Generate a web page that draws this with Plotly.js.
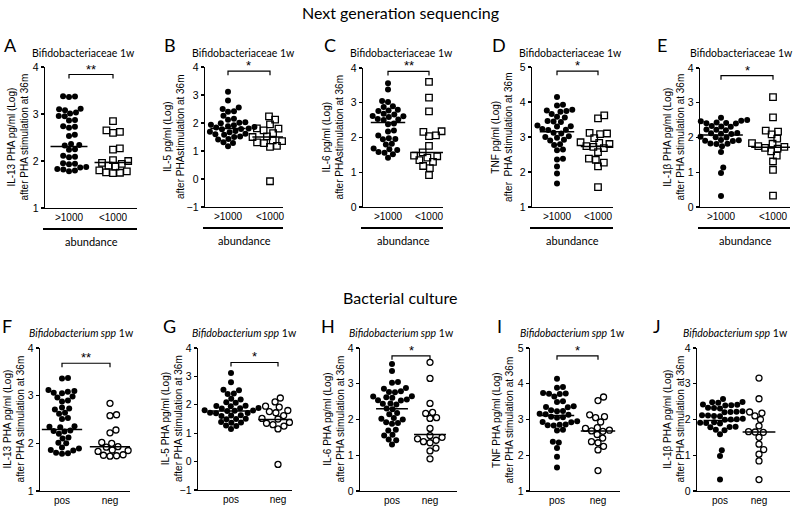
<!DOCTYPE html>
<html><head><meta charset="utf-8">
<script src="https://cdn.plot.ly/plotly-3.0.1.min.js"></script>
<style>body{margin:0;background:#fff}#c{width:800px;height:508px}</style>
</head><body><div id="c"></div>
<script>
// ---------- data ----------
const catsNGS = [">1000", "<1000"];
const catsCult = ["pos", "neg"];

const A_hi = [3.38,3.37,3.36,3.11,3.10,3.08,3.03,3.01,2.96,2.95,2.87,2.86,2.74,2.73,2.71,2.56,2.53,2.36,2.34,2.33,2.25,2.24,2.11,2.09,2.08,1.95,1.94,1.93,1.87,1.86,1.83,1.82,1.80,1.78];
const A_lo = [2.85,2.65,2.62,2.60,2.27,2.24,2.02,2.00,1.96,1.94,1.90,1.88,1.80,1.78,1.76,1.75,1.74];
const A_med = [2.31, 1.97];

const B_hi = [3.12,2.80,2.55,2.50,2.42,2.40,2.26,2.15,2.12,2.03,2.01,1.99,1.94,1.92,1.88,1.86,1.84,1.81,1.80,1.79,1.78,1.71,1.69,1.67,1.62,1.60,1.58,1.52,1.50,1.43,1.41,1.31,1.29,1.17];
const B_lo = [2.24,2.12,1.95,1.82,1.81,1.80,1.74,1.64,1.52,1.50,1.38,1.35,1.31,1.28,1.18,1.15,-0.08];
const B_med = [1.80, 1.50];

const C_hi = [3.56,3.38,3.05,3.02,2.90,2.88,2.80,2.78,2.76,2.68,2.66,2.62,2.61,2.59,2.53,2.52,2.50,2.40,2.38,2.20,2.17,2.06,1.98,1.96,1.95,1.82,1.80,1.68,1.66,1.64,1.58,1.56,1.52,1.42];
const C_lo = [3.60,3.15,2.75,2.18,2.16,2.06,2.04,1.76,1.57,1.48,1.46,1.42,1.35,1.30,1.18,1.12,0.92];
const C_med = [2.43, 1.57];

const D_hi = [4.14,3.92,3.90,3.78,3.76,3.74,3.72,3.66,3.58,3.56,3.46,3.44,3.43,3.33,3.31,3.30,3.23,3.21,3.20,3.12,3.10,3.02,3.00,2.98,2.92,2.90,2.79,2.77,2.64,2.62,2.38,2.36,2.16,1.96,1.67];
const D_lo = [3.62,3.53,3.12,3.10,3.08,2.97,2.85,2.83,2.80,2.74,2.72,2.68,2.57,2.38,2.35,2.27,2.16,1.57];
const D_med = [3.15, 2.73];

const E_hi = [2.57,2.50,2.49,2.48,2.47,2.43,2.42,2.41,2.40,2.33,2.32,2.31,2.23,2.22,2.21,2.13,2.12,2.11,2.10,2.02,2.01,2.00,1.93,1.92,1.91,1.90,1.83,1.82,1.81,1.75,1.58,1.14,0.98,0.32];
const E_lo = [3.16,2.58,2.20,2.17,2.09,1.97,1.84,1.82,1.76,1.75,1.73,1.70,1.68,1.60,1.48,1.31,1.07,0.33];
const E_med = [2.07, 1.72];

const F_hi = [3.37,3.36,3.12,3.10,3.08,3.06,3.05,2.98,2.96,2.90,2.88,2.75,2.73,2.71,2.64,2.62,2.53,2.51,2.36,2.35,2.34,2.27,2.26,2.25,2.20,2.12,2.10,2.01,2.00,1.91,1.89,1.86,1.85,1.80,1.79,1.78];
const F_lo = [2.84,2.60,2.58,2.28,2.22,2.02,2.00,1.93,1.92,1.86,1.85,1.83,1.76,1.75,1.74,1.73];
const F_med = [2.29, 1.93];

const G_hi = [3.12,2.79,2.53,2.51,2.40,2.38,2.21,2.19,2.09,2.07,1.97,1.96,1.95,1.89,1.88,1.87,1.81,1.80,1.79,1.78,1.72,1.71,1.70,1.63,1.62,1.61,1.51,1.50,1.49,1.39,1.38,1.37,1.27,1.25,1.15];
const G_lo = [2.24,2.10,1.95,1.92,1.80,1.76,1.72,1.62,1.52,1.50,1.38,1.35,1.30,1.25,1.15,-0.10];
const G_med = [1.78, 1.48];

const H_hi = [3.55,3.36,3.05,3.03,2.88,2.86,2.79,2.77,2.76,2.65,2.64,2.62,2.61,2.56,2.54,2.53,2.45,2.44,2.42,2.31,2.29,2.18,2.15,2.04,2.02,2.00,1.92,1.90,1.88,1.71,1.69,1.57,1.55,1.44,1.42,1.30];
const H_lo = [3.60,3.15,2.45,2.20,2.17,2.05,2.03,1.75,1.55,1.50,1.46,1.42,1.38,1.35,1.20,1.12,0.90];
const H_med = [2.30, 1.58];

const I_hi = [4.14,3.91,3.89,3.74,3.73,3.72,3.71,3.64,3.51,3.49,3.37,3.35,3.34,3.26,3.24,3.23,3.16,3.15,3.13,3.08,3.06,3.05,2.95,2.93,2.92,2.86,2.85,2.84,2.83,2.71,2.69,2.38,2.36,2.20,1.96,1.66];
const I_lo = [3.63,3.53,3.13,3.08,3.05,2.93,2.77,2.75,2.70,2.68,2.67,2.58,2.48,2.38,2.35,2.25,2.15,1.57];
const I_med = [3.11, 2.68];

const J_hi = [2.57,2.50,2.49,2.48,2.47,2.43,2.42,2.41,2.40,2.39,2.33,2.32,2.31,2.23,2.22,2.21,2.20,2.12,2.11,2.10,2.09,2.02,2.01,2.00,1.99,1.92,1.91,1.90,1.89,1.80,1.79,1.78,1.71,1.70,1.59,1.14,0.98,0.32];
const J_lo = [3.16,2.58,2.21,2.18,2.10,2.00,1.82,1.66,1.65,1.64,1.50,1.31,1.16,1.03,0.84,0.32];
const J_med = [1.97, 1.65];

const yTitles = {
  A:["IL-13 PHA pg/ml (Log)","after PHA stimulation at 36m"],
  B:["IL-5 pg/ml (Log)","after PHAstimulation at 36m"],
  C:["IL-6 pg/ml (Log)","after PHAstimulation at 36m"],
  D:["TNF pg/ml (Log)","after  PHA stimulation at 36m"],
  E:["IL-1β PHA pg/ml (Log)","after PHA stimulation at 36m"],
  F:["IL-13 PHA pg/ml (Log)","after PHA stimulation at 36m"],
  G:["IL-5 PHA pg/ml (Log)","after PHA stimulation at 36m"],
  H:["IL-6 PHA pg/ml (Log)","after PHA stimulation at 36m"],
  I:["TNF PHA pg/ml (Log)","after PHA stimulation at 36m"],
  J:["IL-1β PHA pg/ml (Log)","after PHA stimulation at 36m"]
};
const titleNGS = "Bifidobacteriaceae 1w";
const titleCult = "<i>Bifidobacterium spp</i> 1w";
const sigText = {A:"**",B:"*",C:"**",D:"*",E:"*",F:"**",G:"*",H:"*",I:"*",J:""};

// ---------- panel setup ----------
// geometry px: [axisLeft, cat0, cat1, axisRight, yTop, yBottom]
const panels = [
 {id:"A", g1:A_hi, g2:A_lo, med:A_med, cats:catsNGS, g:[45,69,113,137,67,208], yr:[1,4], br:3.84, tx:83, ytx:18, lx:10, top:true},
 {id:"B", g1:B_hi, g2:B_lo, med:B_med, cats:catsNGS, g:[205,228,270,283,67,207], yr:[-1,4], br:3.85, tx:243, ytx:174, lx:170, top:true},
 {id:"C", g1:C_hi, g2:C_lo, med:C_med, cats:catsNGS, g:[363,388,429,443,68,207], yr:[0,4], br:3.90, tx:402, ytx:333, lx:330, top:true},
 {id:"D", g1:D_hi, g2:D_lo, med:D_med, cats:catsNGS, g:[532,557,598,613,67,207], yr:[1,5], br:4.88, tx:570, ytx:502, lx:499, top:true},
 {id:"E", g1:E_hi, g2:E_lo, med:E_med, cats:catsNGS, g:[700,721,773,790,68,207], yr:[0,4], br:3.78, tx:741, ytx:674, lx:662, top:true},
 {id:"F", g1:F_hi, g2:F_lo, med:F_med, cats:catsCult, g:[40,62,110,130,348,491], yr:[1,4], br:3.68, tx:81, ytx:13, lx:7, top:false},
 {id:"G", g1:G_hi, g2:G_lo, med:G_med, cats:catsCult, g:[198,231,278,292,348,490], yr:[-1,4], br:3.49, tx:244, ytx:172, lx:169, top:false},
 {id:"H", g1:H_hi, g2:H_lo, med:H_med, cats:catsCult, g:[360,392,430,457,348,491], yr:[0,4], br:3.78, tx:401, ytx:333, lx:328, top:false},
 {id:"I", g1:I_hi, g2:I_lo, med:I_med, cats:catsCult, g:[530,557,598,620,348,491], yr:[1,5], br:4.78, tx:572, ytx:502, lx:499, top:false},
 {id:"J", g1:J_hi, g2:J_lo, med:J_med, cats:catsCult, g:[697,720,759,790,348,491], yr:[0,4], br:null, tx:735, ytx:673, lx:657, top:false}
];

const W = 800, H = 508;
const AX = "Liberation Sans, Arial, sans-serif";
const TT = "Lato, Open Sans, sans-serif";

function swarm(vals, ky, diam) {
  const order = vals.map((v,i)=>i).sort((a,b)=>vals[a]-vals[b]);
  const placed = [], xs = new Array(vals.length).fill(0);
  for (const i of order) {
    const y = vals[i]*ky;
    const near = placed.filter(p => Math.abs(p.y-y) < diam);
    const cands = [0];
    near.forEach(p => { const dx = Math.sqrt(diam*diam-(p.y-y)**2); cands.push(p.x+dx, p.x-dx); });
    cands.sort((a,b)=>Math.abs(a)-Math.abs(b) || b-a);
    let x = 0;
    for (const c of cands) {
      if (near.every(p => (p.x-c)**2+(p.y-y)**2 >= diam*diam-0.01)) { x = c; break; }
    }
    placed.push({x,y}); xs[i] = x;
  }
  return xs;
}

const traces = [];
const layout = {
  width:W, height:H, margin:{l:0,r:0,t:0,b:0}, showlegend:false,
  paper_bgcolor:"white", plot_bgcolor:"rgba(0,0,0,0)",
  annotations:[], shapes:[]
};

layout.annotations.push({xref:"paper",yref:"paper",x:400/W,y:1-13/H,text:"Next generation sequencing",showarrow:false,font:{family:TT,size:16,color:"black"},xanchor:"center",yanchor:"middle"});
layout.annotations.push({xref:"paper",yref:"paper",x:400/W,y:1-297/H,text:"Bacterial culture",showarrow:false,font:{family:TT,size:16,color:"black"},xanchor:"center",yanchor:"middle"});

panels.forEach((p, k) => {
  const n = k+1, sx = n===1?"":String(n);
  const [axL,c0,c1,axR,yT,yB] = p.g;
  const kx = c1-c0;
  const ky = (yB-yT)/(p.yr[1]-p.yr[0]);
  layout["xaxis"+sx] = {
    domain:[axL/W, axR/W], range:[-(c0-axL)/kx, 1+(axR-c1)/kx],
    showline:true, linecolor:"black", linewidth:1.3, ticks:"", showgrid:false, zeroline:false,
    tickvals:[0,1], ticktext:p.cats, tickfont:{family:AX,size:10,color:"black"},
    anchor:"y"+sx, fixedrange:true
  };
  layout["yaxis"+sx] = {
    domain:[1-yB/H, 1-yT/H], range:p.yr, dtick:1, tick0:0,
    showline:true, linecolor:"black", linewidth:1.3, ticks:"outside", ticklen:3, tickwidth:1.2, tickcolor:"black",
    showgrid:false, zeroline:false, tickfont:{family:AX,size:10.5,color:"black"},
    anchor:"x"+sx, fixedrange:true
  };
  const xo1 = swarm(p.g1, ky, 6.0).map(v => 0 + v/kx);
  const xo2 = swarm(p.g2, ky, p.top?7.0:6.6).map(v => 1 + v/kx);
  traces.push({type:"scatter",mode:"markers",x:xo1,y:p.g1,xaxis:"x"+sx,yaxis:"y"+sx,cliponaxis:false,
    marker:{symbol:"circle",size:6,color:"black"},hoverinfo:"y"});
  traces.push({type:"scatter",mode:"markers",x:xo2,y:p.g2,xaxis:"x"+sx,yaxis:"y"+sx,cliponaxis:false,
    marker:{symbol:p.top?"square-open":"circle-open",size:p.top?6.5:6,color:"black",line:{width:1.3,color:"black"}},hoverinfo:"y"});
  p.med.forEach((m,i) => {
    layout.shapes.push({type:"line",xref:"x"+sx,yref:"y"+sx,x0:i-0.42,x1:i+0.42,y0:m,y1:m,line:{color:"black",width:1.5}});
  });
  if (p.br !== null) {
    const d = 4/ky;
    layout.shapes.push({type:"path",xref:"x"+sx,yref:"y"+sx,
      path:`M 0,${p.br-d} L 0,${p.br} L 1,${p.br} L 1,${p.br-d}`,line:{color:"black",width:1.2}});
    layout.annotations.push({xref:"x"+sx,yref:"y"+sx,x:0.5,y:p.br,yanchor:"bottom",xanchor:"center",yshift:-4,
      text:sigText[p.id],showarrow:false,font:{family:AX,size:13,color:"black"}});
  }
  layout.annotations.push({xref:"paper",yref:"paper",x:p.ytx/W,y:1-((yT+yB)/2)/H,textangle:-90,
    text:yTitles[p.id].join("<br>"),showarrow:false,xanchor:"center",yanchor:"middle",
    font:{family:AX,size:10,color:"black"}});
  const ty = p.top ? 53 : 333;
  layout.annotations.push({xref:"paper",yref:"paper",x:p.tx/W,y:1-ty/H,text:p.top?titleNGS:titleCult,
    showarrow:false,xanchor:"center",yanchor:"middle",font:{family:TT,size:10.5,color:"black"}});
  const ly = p.top ? 45 : 326;
  layout.annotations.push({xref:"paper",yref:"paper",x:p.lx/W,y:1-ly/H,text:p.id,showarrow:false,
    xanchor:"center",yanchor:"middle",font:{family:TT,size:18,color:"black"}});
  if (p.top) {
    layout.shapes.push({type:"line",xref:"paper",yref:"paper",x0:(axL-2)/W,x1:axR/W,y0:1-(yB+21)/H,y1:1-(yB+21)/H,line:{color:"black",width:2}});
    layout.annotations.push({xref:"paper",yref:"paper",x:((axL+axR)/2)/W,y:1-(yB+33)/H,text:"abundance",showarrow:false,
      xanchor:"center",yanchor:"middle",font:{family:TT,size:11,color:"black"}});
  }
});

Plotly.newPlot("c", traces, layout, {staticPlot:true, displayModeBar:false});
</script>
</body></html>
